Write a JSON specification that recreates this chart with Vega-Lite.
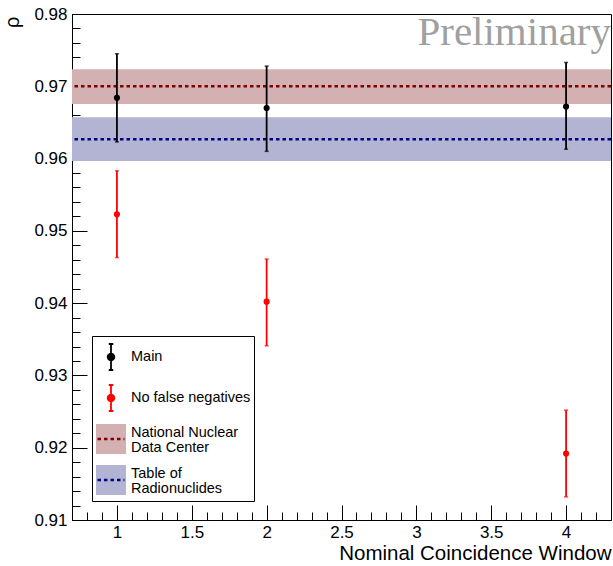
{
  "$schema": "https://vega.github.io/schema/vega-lite/v6.json",
  "width": 539,
  "height": 506,
  "autosize": {"type": "none"},
  "padding": {"left": 72, "top": 14, "right": 2, "bottom": 46},
  "background": "white",
  "config": {
    "font": "Liberation Sans",
    "view": {"stroke": "black", "strokeWidth": 1},
    "axis": {
      "domainColor": "black", "tickColor": "black", "labelColor": "black", "titleColor": "black",
      "grid": false, "labelFont": "Liberation Sans", "titleFont": "Liberation Sans",
      "tickWidth": 1, "domainWidth": 1, "labelFlush": false, "labelOverlap": false
    }
  },
  "datasets": {
    "points": [
      {"series": "Main", "x": 1, "y": 0.9684, "lo": 0.9623, "hi": 0.9745},
      {"series": "Main", "x": 2, "y": 0.9670, "lo": 0.9610, "hi": 0.9728},
      {"series": "Main", "x": 4, "y": 0.9672, "lo": 0.9613, "hi": 0.9733},
      {"series": "No false negatives", "x": 1, "y": 0.9523, "lo": 0.9463, "hi": 0.9583},
      {"series": "No false negatives", "x": 2, "y": 0.9402, "lo": 0.9341, "hi": 0.9461},
      {"series": "No false negatives", "x": 4, "y": 0.9192, "lo": 0.9132, "hi": 0.9252}
    ],
    "bands": [
      {"name": "National Nuclear Data Center", "key": "nndc", "value": 0.9700, "lo": 0.96755, "hi": 0.97235, "x0": 0.7, "x1": 4.3},
      {"name": "Table of Radionuclides", "key": "tori", "value": 0.96267, "lo": 0.95967, "hi": 0.96571, "x0": 0.7, "x1": 4.3}
    ],
    "label": [{"text": "Preliminary"}]
  },
  "layer": [
    {
      "data": {"name": "bands"},
      "mark": {"type": "rect", "opacity": 1},
      "encoding": {
        "x": {"field": "x0", "type": "quantitative", "scale": {"domain": [0.7, 4.3], "nice": false, "zero": false}, "axis": null},
        "x2": {"field": "x1"},
        "y": {"field": "lo", "type": "quantitative", "scale": {"domain": [0.91, 0.98], "nice": false, "zero": false}, "axis": null},
        "y2": {"field": "hi"},
        "fill": {
          "field": "name", "type": "nominal",
          "scale": {"domain": ["Main", "No false negatives", "National Nuclear Data Center", "Table of Radionuclides"], "range": ["transparent", "transparent", "#d3b0b1", "#b3b4d4"]},
          "legend": {
            "orient": "none", "legendX": 20, "legendY": 322, "direction": "vertical", "title": null,
            "symbolSize": 900, "symbolStrokeWidth": 2,
            "clipHeight": 36, "rowPadding": 5, "padding": 3, "labelOffset": 4,
            "labelFontSize": 14.5, "labelColor": "transparent", "labelLimit": 300,
            "labelExpr": "''",
            "encode": {
              "labels": {"update": {"x": {"value": 36}}},
              "symbols": {"update": {
                "x": {"value": 16},
                "shape": {"value": "M-0.933,-0.933L0.933,-0.933L0.933,0.933L-0.933,0.933Z"},
                "size": {"value": 900},
                "stroke": {"value": "transparent"},
                "strokeWidth": {"value": 0},
                "opacity": {"value": 1}
              }}
            }
          }
        }
      }
    },
    {
      "data": {"name": "bands"},
      "mark": {"type": "rule", "strokeWidth": 2.5, "strokeDash": [3.5, 3]},
      "encoding": {
        "y": {"field": "value", "type": "quantitative", "scale": {"domain": [0.91, 0.98], "nice": false, "zero": false}, "axis": null},
        "stroke": {
          "field": "key", "type": "nominal",
          "scale": {"domain": ["main", "nofn", "nndc", "tori"], "range": ["black", "red", "#800000", "#000080"]},
          "legend": {
            "orient": "none", "legendX": 20, "legendY": 322, "direction": "vertical", "title": null,
            "symbolSize": 900, "symbolStrokeWidth": 2,
            "clipHeight": 36, "rowPadding": 5, "padding": 3, "labelOffset": 4,
            "labelFontSize": 14.5, "labelColor": "black", "labelLimit": 300,
            "strokeColor": "black", "cornerRadius": 0,
            "labelExpr": "datum.value == 'main' ? 'Main' : datum.value == 'nofn' ? 'No false negatives' : datum.value == 'nndc' ? ['National Nuclear', 'Data Center'] : ['Table of', 'Radionuclides']",
            "encode": {
              "labels": {"update": {"x": {"value": 36}, "lineHeight": {"value": 15}, "dy": {"signal": "datum.value == 'nndc' || datum.value == 'tori' ? -6 : 0"}}},
              "symbols": {"update": {
                "x": {"value": 16},
                "shape": {"signal": "datum.value == 'main' || datum.value == 'nofn' ? 'M0,-0.867L0,0.867M-0.15,-0.867L0.15,-0.867M-0.15,0.867L0.15,0.867M-0.22,0A0.22,0.22,0,1,1,0.22,0A0.22,0.22,0,1,1,-0.22,0Z' : 'M-0.9,0L0.9,0'"},
                "size": {"value": 900},
                "strokeDash": {"signal": "datum.value == 'nndc' || datum.value == 'tori' ? [3.5, 3] : [1, 0]"},
                "fill": {"signal": "datum.value == 'main' ? 'black' : datum.value == 'nofn' ? 'red' : 'transparent'"},
                "strokeWidth": {"signal": "datum.value == 'nndc' || datum.value == 'tori' ? 2.5 : 1.8"},
                "opacity": {"value": 1}
              }}
            }
          }
        }
      }
    },
    {
      "data": {"name": "points"},
      "mark": {"type": "rule", "strokeWidth": 1.8},
      "encoding": {
        "x": {"field": "x", "type": "quantitative", "scale": {"domain": [0.7, 4.3], "nice": false, "zero": false},
          "axis": {"orient": "bottom", "values": [1, 1.5, 2, 2.5, 3, 3.5, 4], "format": "~g", "tickSize": -15, "labelFontSize": 17, "labelPadding": 19,
            "title": "Nominal Coincidence Window", "titleAnchor": "end", "titleFontSize": 20.5, "titleFontWeight": "normal",
            "titleY": 39, "titleBaseline": "alphabetic"}},
        "y": {"field": "lo", "type": "quantitative", "scale": {"domain": [0.91, 0.98], "nice": false, "zero": false},
          "axis": {"orient": "left", "values": [0.91, 0.92, 0.93, 0.94, 0.95, 0.96, 0.97, 0.98], "format": ".2f", "tickSize": -15, "labelFontSize": 17, "labelPadding": 20,
            "title": "ρ", "titleAnchor": "end", "titleAngle": -90, "titleAlign": "right", "titleBaseline": "alphabetic",
            "titleX": -54, "titleY": 2, "titleFontSize": 20, "titleFontWeight": "normal"}},
        "y2": {"field": "hi"},
        "color": {"field": "series", "type": "nominal", "scale": {"domain": ["Main", "No false negatives"], "range": ["black", "red"]}, "legend": null}
      }
    },
    {
      "data": {"name": "points"},
      "mark": {"type": "tick", "orient": "horizontal", "size": 4, "thickness": 1.5},
      "encoding": {
        "x": {"field": "x", "type": "quantitative", "scale": {"domain": [0.7, 4.3], "nice": false, "zero": false}, "axis": null},
        "y": {"field": "lo", "type": "quantitative", "scale": {"domain": [0.91, 0.98], "nice": false, "zero": false}, "axis": null},
        "color": {"field": "series", "type": "nominal", "scale": {"domain": ["Main", "No false negatives"], "range": ["black", "red"]}, "legend": null}
      }
    },
    {
      "data": {"name": "points"},
      "mark": {"type": "tick", "orient": "horizontal", "size": 4, "thickness": 1.5},
      "encoding": {
        "x": {"field": "x", "type": "quantitative", "scale": {"domain": [0.7, 4.3], "nice": false, "zero": false}, "axis": null},
        "y": {"field": "hi", "type": "quantitative", "scale": {"domain": [0.91, 0.98], "nice": false, "zero": false}, "axis": null},
        "color": {"field": "series", "type": "nominal", "scale": {"domain": ["Main", "No false negatives"], "range": ["black", "red"]}, "legend": null}
      }
    },
    {
      "data": {"name": "points"},
      "mark": {"type": "point", "filled": true, "size": 38, "opacity": 1},
      "encoding": {
        "x": {"field": "x", "type": "quantitative", "scale": {"domain": [0.7, 4.3], "nice": false, "zero": false}, "axis": null},
        "y": {"field": "y", "type": "quantitative", "scale": {"domain": [0.91, 0.98], "nice": false, "zero": false}, "axis": null},
        "color": {"field": "series", "type": "nominal", "scale": {"domain": ["Main", "No false negatives"], "range": ["black", "red"]}, "legend": null}
      }
    },
    {
      "data": {"name": "label"},
      "mark": {"type": "text", "align": "right", "baseline": "alphabetic", "dy": 31, "font": "Liberation Serif", "fontSize": 41, "color": "#a0a0a0"},
      "encoding": {
        "x": {"datum": 4.3, "type": "quantitative", "scale": {"domain": [0.7, 4.3], "nice": false, "zero": false}, "axis": null},
        "y": {"datum": 0.98, "type": "quantitative", "scale": {"domain": [0.91, 0.98], "nice": false, "zero": false}, "axis": null},
        "text": {"field": "text"}
      }
    },
    {
      "data": {"name": "points"},
      "mark": {"type": "point", "opacity": 0},
      "encoding": {
        "x": {"field": "x", "type": "quantitative", "scale": {"domain": [0.7, 4.3], "nice": false, "zero": false},
          "axis": {"orient": "bottom", "values": [0.8, 0.9, 1.1, 1.2, 1.3, 1.4, 1.6, 1.7, 1.8, 1.9, 2.1, 2.2, 2.3, 2.4, 2.6, 2.7, 2.8, 2.9, 3.1, 3.2, 3.3, 3.4, 3.6, 3.7, 3.8, 3.9, 4.1, 4.2],
            "tickSize": -8, "labels": false, "domain": false, "title": null}},
        "y": {"field": "y", "type": "quantitative", "scale": {"domain": [0.91, 0.98], "nice": false, "zero": false},
          "axis": {"orient": "left", "values": [0.912, 0.914, 0.916, 0.918, 0.922, 0.924, 0.926, 0.928, 0.932, 0.934, 0.936, 0.938, 0.942, 0.944, 0.946, 0.948, 0.952, 0.954, 0.956, 0.958, 0.962, 0.964, 0.966, 0.968, 0.972, 0.974, 0.976, 0.978],
            "tickSize": -8, "labels": false, "domain": false, "title": null}}
      }
    }
  ],
  "resolve": {"axis": {"x": "independent", "y": "independent"}}
}
